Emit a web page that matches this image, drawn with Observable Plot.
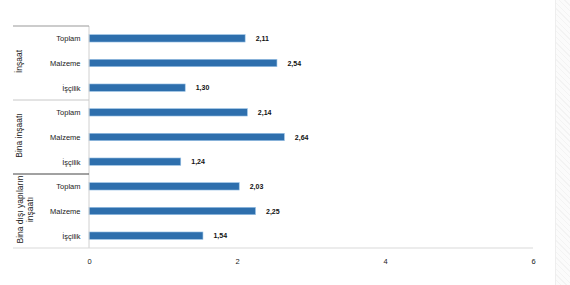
<!DOCTYPE html>
<html>
<head>
<meta charset="utf-8">
<script src="https://cdn.jsdelivr.net/npm/d3@7"></script>
<script src="https://cdn.jsdelivr.net/npm/@observablehq/plot@0.6"></script>
<style>
  html, body { margin: 0; padding: 0; background: #fff; }
  #wrap { position: relative; width: 570px; height: 285px; overflow: hidden; }
  #strip { position: absolute; left: 555px; top: 0; width: 15px; height: 285px;
    border-left: 1px solid #eeeeee; background: repeating-linear-gradient(45deg, #fbfbfb 0 3px, #f3f3f3 3px 4px); }
</style>
</head>
<body>
<div id="wrap"><div id="strip"></div></div>
<script>
const groups = ["İnşaat", "Bina inşaatı", "Bina dışı yapıların\ninşaatı"];
const items = ["Toplam", "Malzeme", "İşçilik"];
const values = [
  [2.11, 2.54, 1.30],
  [2.14, 2.64, 1.24],
  [2.03, 2.25, 1.54]
];
const xTicks = [0, 2, 4, 6];

const rows = [];
groups.forEach((g, gi) => items.forEach((it, ii) => {
  rows.push({ key: gi + "|" + it, group: g, item: it, value: values[gi][ii], gi, ii });
}));
const keys = rows.map(d => d.key);
const fmt = v => v.toFixed(2).replace(".", ",");
const groupMid = rows.filter(d => d.ii === 1);
const singleLine = groupMid.filter(d => !d.group.includes("\n"));
const multiLine = groupMid.filter(d => d.group.includes("\n"));

const font = "Liberation Sans, Arial, sans-serif";

const chart = Plot.plot({
  width: 570,
  height: 285,
  marginLeft: 89,
  marginRight: 37,
  marginTop: 26,
  marginBottom: 37,
  style: { fontFamily: font, fontSize: "7.5px", color: "#222", background: "transparent" },
  x: { domain: [0, 6], ticks: xTicks, tickSize: 0, tickPadding: 10, label: null, tickFormat: d => String(d) },
  y: { domain: keys, paddingInner: 0.7, paddingOuter: 0.35, round: false, tickSize: 0, tickPadding: 9, label: null,
       tickFormat: k => k.split("|")[1] },
  marks: [
    Plot.barX(rows, { x: "value", y: "key", fill: "#2e6fad", stroke: "#9cc3e6", strokeWidth: 0.6 }),
    Plot.text(rows, { x: "value", y: "key", text: d => fmt(d.value), textAnchor: "start", dx: 10,
      fontWeight: "bold", fontSize: 7, fill: "#111" }),
    Plot.text(singleLine, { y: "key", text: "group", frameAnchor: "left", textAnchor: "middle", dx: -70, dy: -2, rotate: -90,
      fontSize: 8.5, fill: "#222" }),
    Plot.text(multiLine, { y: "key", text: "group", frameAnchor: "left", textAnchor: "middle", dx: -65, dy: -2, rotate: -90,
      fontSize: 8.5, fill: "#222", lineHeight: 1.15 })
  ]
});

document.getElementById("wrap").appendChild(chart);

// separator lines drawn from the plot's own y scale
const ys = chart.scale("y");
const step = ys.step;
const svg = d3.select(chart);
const yOf = k => ys.apply(k) + ys.bandwidth / 2;
const left = 13, axisX = chart.scale("x").apply(0), right = chart.scale("x").apply(6);
const topY = yOf(keys[0]) - step / 2;
const botY = yOf(keys[keys.length - 1]) + step / 2;
const seps = [
  { y: topY, x1: left, x2: axisX, c: "#999" },
  { y: yOf(keys[3]) - step / 2, x1: left, x2: axisX, c: "#c8c8c8" },
  { y: yOf(keys[6]) - step / 2, x1: left, x2: axisX, c: "#444" },
  { y: botY, x1: left, x2: right, c: "#d9d9d9" }
];
svg.append("line").attr("x1", axisX).attr("x2", axisX).attr("y1", topY).attr("y2", botY)
  .attr("stroke", "#d0d0d0").attr("stroke-width", 1);
seps.forEach(s => svg.append("line").attr("x1", s.x1).attr("x2", s.x2)
  .attr("y1", s.y).attr("y2", s.y).attr("stroke", s.c).attr("stroke-width", 1));
</script>
</body>
</html>
